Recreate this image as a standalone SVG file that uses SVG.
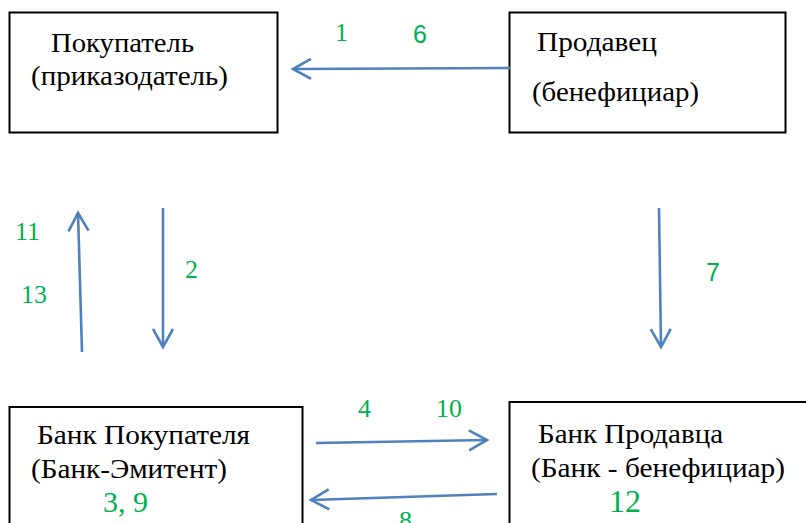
<svg xmlns="http://www.w3.org/2000/svg" width="806" height="523" viewBox="0 0 806 523">
<style>
.box{fill:#fff;stroke:#000;stroke-width:2}
.lbl{font-family:'Liberation Serif','Times New Roman',serif;font-size:28px;fill:#000}
.num{font-family:'Liberation Serif','Times New Roman',serif;font-size:26px;fill:#00b050}
.nums{font-family:'Liberation Sans',Arial,sans-serif;font-size:25px;fill:#00b050}
.arr{fill:none;stroke:#4f81bd;stroke-width:2.6;marker-end:url(#ah)}
</style>
<defs>
<marker id="ah" markerUnits="userSpaceOnUse" viewBox="-22 -13 26 26" refX="0" refY="0" markerWidth="26" markerHeight="26" orient="auto">
<path d="M-18,-10 L0,0 L-18,10" fill="none" stroke="#4f81bd" stroke-width="2.6"/>
</marker>
</defs>
<rect width="806" height="523" fill="#fff"/>
<g id="buyer">
<rect class="box" x="9.5" y="12.5" width="268" height="120"/>
<text class="lbl" x="51" y="52" textLength="143" lengthAdjust="spacingAndGlyphs">Покупатель</text>
<text class="lbl" x="31" y="85" textLength="197" lengthAdjust="spacingAndGlyphs">(приказодатель)</text>
</g>
<g id="seller">
<rect class="box" x="509.5" y="12.5" width="276" height="120"/>
<text class="lbl" x="537" y="51" textLength="120" lengthAdjust="spacingAndGlyphs">Продавец</text>
<text class="lbl" x="532" y="101" textLength="167" lengthAdjust="spacingAndGlyphs">(бенефициар)</text>
</g>
<g id="buyer-bank">
<rect class="box" x="9.5" y="407" width="293" height="130"/>
<text class="lbl" x="37" y="444" textLength="213" lengthAdjust="spacingAndGlyphs">Банк Покупателя</text>
<text class="lbl" x="31" y="478" textLength="196" lengthAdjust="spacingAndGlyphs">(Банк-Эмитент)</text>
<text class="num" x="103" y="512" style="font-size:30px">3, 9</text>
</g>
<g id="seller-bank">
<rect class="box" x="509.5" y="402" width="310" height="130"/>
<text class="lbl" x="538" y="443" textLength="185" lengthAdjust="spacingAndGlyphs">Банк Продавца</text>
<text class="lbl" x="531" y="477" textLength="254" lengthAdjust="spacingAndGlyphs">(Банк - бенефициар)</text>
<text class="num" x="609" y="512" style="font-size:32px">12</text>
</g>
<g id="connectors">
<path class="arr" d="M510,68 L293,69"/>
<path class="arr" d="M82,352 L78,213"/>
<path class="arr" d="M163,208 L163,347"/>
<path class="arr" d="M659,208 L661,347"/>
<path class="arr" d="M316,443 L487,440"/>
<path class="arr" d="M497,494 L311,500"/>
<text class="num" x="335" y="41">1</text>
<text class="nums" x="413" y="43">6</text>
<text class="num" x="15" y="240">11</text>
<text class="num" x="21" y="303">13</text>
<text class="num" x="185" y="278">2</text>
<text class="nums" x="706" y="281">7</text>
<text class="num" x="358" y="417">4</text>
<text class="num" x="436" y="417">10</text>
<text class="num" x="399" y="529">8</text>
</g>
</svg>
